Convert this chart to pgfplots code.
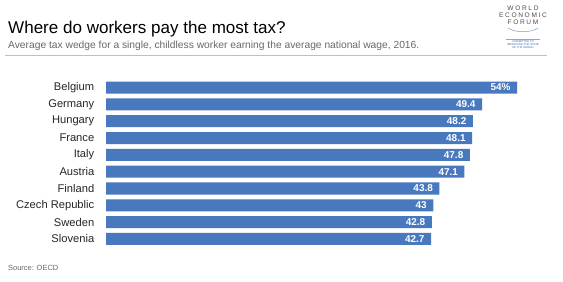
\documentclass[border=0pt]{standalone}
\usepackage{pgfplots}
\pgfplotsset{compat=1.18}
\usepackage{fontspec}
\setmainfont{Liberation Sans}
\definecolor{barblue}{RGB}{72,121,191}
\definecolor{subgray}{RGB}{105,105,105}
\definecolor{wefblue}{RGB}{60,110,180}
\begin{document}
\begin{tikzpicture}[x=1bp,y=1bp]
\useasboundingbox[fill=white] (0,0) rectangle (563,281);
% title block
\node[anchor=base west,inner sep=0,font=\fontsize{17.1}{17}\selectfont] at (8,281-33) {Where do workers pay the most tax?};
\node[anchor=base west,inner sep=0,font=\fontsize{10.3}{10}\selectfont,text=subgray] at (8,281-48) {Average tax wedge for a single, childless worker earning the average national wage, 2016.};
\draw[gray!50,line width=0.6bp] (5,281-55) -- (547,281-55);
% logo
\node[align=center,inner sep=0,font=\fontsize{6.6}{6.8}\selectfont\addfontfeatures{LetterSpace=25},text=gray!60!black,anchor=north] at (523,281-6) {WORLD\\ECONOMIC\\FORUM};
\draw[wefblue!70,line width=0.5bp] (508,281-28) .. controls (515,281-33) and (531,281-33) .. (538,281-28);
\node[align=center,inner sep=0,font=\fontsize{2.8}{3.2}\selectfont,text=wefblue,anchor=north] at (523,281-40) {COMMITTED TO\\IMPROVING THE STATE\\OF THE WORLD};
\draw[wefblue!60,line width=0.3bp] (506,281-39.5) -- (540,281-39.5);
% source
\node[anchor=base west,inner sep=0,font=\fontsize{7.5}{8}\selectfont,text=subgray] at (8,281-270) {Source: OECD};
\begin{axis}[
  at={(106bp,33.6bp)}, anchor=south west,
  scale only axis, width=411bp, height=168.3bp,
  xbar, bar width=12bp, bar shift=0pt,
  xmin=0, xmax=54,
  ymin=0.5, ymax=10.5, y dir=reverse,
  axis line style={draw=none}, tick style={draw=none},
  xtick=\empty,
  ytick={1,...,10},
  yticklabels={Belgium,Germany,Hungary,France,Italy,Austria,Finland,Czech Republic,Sweden,Slovenia},
  yticklabel style={font=\fontsize{11.2}{11}\selectfont, text=black!85, xshift=-4bp},
  nodes near coords,
  point meta=explicit symbolic,
  every node near coord/.append style={anchor=east, xshift=-3bp, text=white, font=\fontsize{10}{10}\bfseries\selectfont},
  clip=false,
]
\addplot[fill=barblue, draw=none] coordinates {
(54,1) [54\%]
(49.4,2) [49.4]
(48.2,3) [48.2]
(48.1,4) [48.1]
(47.8,5) [47.8]
(47.1,6) [47.1]
(43.8,7) [43.8]
(43,8) [43]
(42.8,9) [42.8]
(42.7,10) [42.7]
};
\end{axis}
\end{tikzpicture}
\end{document}
